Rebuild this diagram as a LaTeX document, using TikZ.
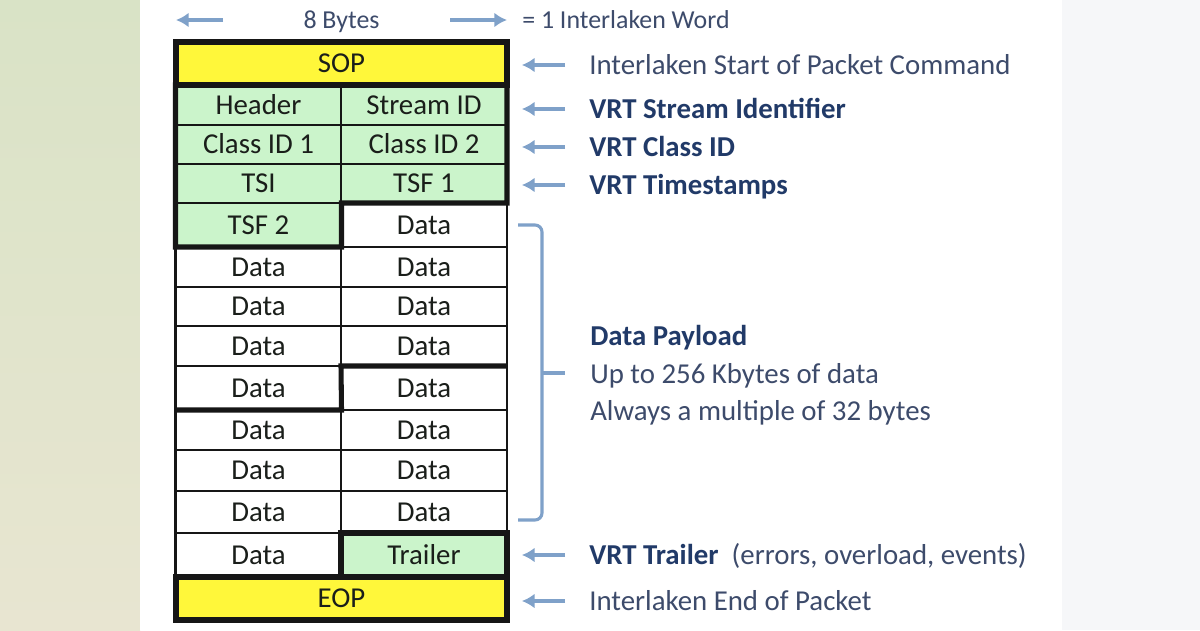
\documentclass[tikz,border=0pt]{standalone}
\usepackage{fontspec}
\setmainfont{Carlito}
\usetikzlibrary{arrows.meta,positioning,calc}
\definecolor{IlkInk}{HTML}{1A1E1A}
\definecolor{IlkLine}{HTML}{161616}
\definecolor{IlkYellow}{HTML}{FFF73A}
\definecolor{IlkGreen}{HTML}{CBF4CB}
\definecolor{IlkNavy}{HTML}{213A68}
\definecolor{IlkSlate}{HTML}{3D4B6B}
\definecolor{IlkArrow}{HTML}{7FA1C9}
\definecolor{IlkSide}{HTML}{F6F7F9}
\definecolor{IlkStripTop}{HTML}{D9E3C6}
\definecolor{IlkStripMid}{HTML}{E4EAE7}
\definecolor{IlkStripBot}{HTML}{E8E5D1}
\newcommand\ilkpx{0.025cm}
\tikzset{
  ilk cell/.style={draw=IlkLine, line width=1.9pt, inner sep=0pt, outer sep=0pt, text=IlkInk,
    font=\fontsize{20.5}{24}\selectfont, text height=13.2pt, text depth=0pt,
    minimum width=166*\ilkpx},
  ilk row/.style={minimum height=#1*\ilkpx},
  ilk data/.style={ilk cell, fill=white},
  ilk vrt/.style={ilk cell, fill=IlkGreen},
  ilk ctrl/.style={ilk cell, fill=IlkYellow, minimum width=331*\ilkpx},
  ilk thick/.style={draw=IlkLine, line width=3.6pt, line join=miter},
  ilk note/.style={anchor=west, inner sep=0pt, text=IlkSlate,
    font=\fontsize{20.5}{24}\selectfont, text height=13.2pt, text depth=0pt},
  ilk vrt note/.style={ilk note, text=IlkNavy, font=\bfseries\fontsize{20.5}{24}\selectfont},
  ilk word/.style={inner sep=0pt, text=IlkSlate, font=\fontsize{18.4}{22}\selectfont,
    text height=11.9pt, text depth=0pt},
  ilk pointer/.style={draw=IlkArrow, line width=2.5pt, -{Latex[length=9pt,width=10.5pt]}},
  ilk brace/.style={draw=IlkArrow, line width=2.2pt, rounded corners=5pt},
}

\begin{document}
\begin{tikzpicture}[x=0.025cm,y=-0.025cm]
  \useasboundingbox (0,0) rectangle (1200,630);
  % slide background: tinted strips either side of the white page
  \shade[top color=IlkStripTop, middle color=IlkStripMid, bottom color=IlkStripBot] (0,0) rectangle (140,630);
  \fill[white] (140,0) rectangle (1062,630);
  \fill[IlkSide] (1062,0) rectangle (1200,630);

  % one Interlaken word per row, two 4-byte fields side by side
  \node[ilk ctrl, ilk row=43] (sop) at (341.5,63.5) {SOP};
  \node[ilk vrt, ilk row=40] (hdr) at (258.5,105) {Header};
  \node[ilk vrt, ilk row=40] (strm) at (424,105) {Stream ID};
  \node[ilk vrt, ilk row=39] (cls1) at (258.5,144.5) {Class ID 1};
  \node[ilk vrt, ilk row=39] (cls2) at (424,144.5) {Class ID 2};
  \node[ilk vrt, ilk row=39] (tsi) at (258.5,183.5) {TSI};
  \node[ilk vrt, ilk row=39] (tsf1) at (424,183.5) {TSF 1};
  \node[ilk vrt, ilk row=44] (tsf2) at (258.5,225) {TSF 2};
  \node[ilk data, ilk row=44] (d4b) at (424,225) {Data};

  % payload words
  \node[ilk data, ilk row=40] (d5a) at (258.5,267) {Data};
  \node[ilk data, ilk row=40] (d5b) at (424,267) {Data};
  \node[ilk data, ilk row=39] (d6a) at (258.5,306.5) {Data};
  \node[ilk data, ilk row=39] (d6b) at (424,306.5) {Data};
  \node[ilk data, ilk row=40] (d7a) at (258.5,346) {Data};
  \node[ilk data, ilk row=40] (d7b) at (424,346) {Data};
  \node[ilk data, ilk row=44] (d8a) at (258.5,388) {Data};
  \node[ilk data, ilk row=44] (d8b) at (424,388) {Data};
  \node[ilk data, ilk row=40] (d9a) at (258.5,430) {Data};
  \node[ilk data, ilk row=40] (d9b) at (424,430) {Data};
  \node[ilk data, ilk row=41] (d10a) at (258.5,470.5) {Data};
  \node[ilk data, ilk row=41] (d10b) at (424,470.5) {Data};
  \node[ilk data, ilk row=42] (d11a) at (258.5,512) {Data};
  \node[ilk data, ilk row=42] (d11b) at (424,512) {Data};
  \node[ilk data, ilk row=44] (d12a) at (258.5,555) {Data};
  \node[ilk vrt, ilk row=44] (trl) at (424,555) {Trailer};
  \node[ilk ctrl, ilk row=43] (eop) at (341.5,598.5) {EOP};

  % heavy outlines round the field groups
  \draw[ilk thick] (sop.north west) rectangle (sop.south east);
  \draw[ilk thick] (hdr.north west) -- (strm.north east) -- (tsf1.south east) -- (tsf2.north east)
    -- (tsf2.south east) -- (tsf2.south west) -- cycle;
  \draw[ilk thick] (d8a.south west) -- (d8a.south east) -- (d8b.north west) -- (d8b.north east);
  \draw[ilk thick] (trl.north west) rectangle (trl.south east);
  \draw[ilk thick] (eop.north west) rectangle (eop.south east);

  % word width
  \node[ilk word] (bytes) at (341.5,20) {8 Bytes};
  \node[ilk word, anchor=west] (word) at (522,20) {= 1 Interlaken Word};
  \draw[ilk pointer, shorten <=57pt] (bytes.west) -- (bytes.west -| sop.west);
  \draw[ilk pointer, shorten <=50pt] (bytes.east) -- (bytes.east -| sop.east);

  % field notes
  \node[ilk note] (sopnote) at (589,65) {Interlaken Start of Packet Command};
  \node[ilk vrt note] (strmnote) at (589,109) {VRT Stream Identifier};
  \node[ilk vrt note] (clsnote) at (589,147) {VRT Class ID};
  \node[ilk vrt note] (tsnote) at (589,185) {VRT Timestamps};
  \node[ilk note] (trlnote) at (589,555) {\textbf{\color{IlkNavy}VRT Trailer}\ \ (errors, overload, events)};
  \node[ilk note] (eopnote) at (589,601) {Interlaken End of Packet};
  \draw[ilk pointer, shorten <=17pt, shorten >=10.6pt] (sopnote.west) -- (sopnote.west -| sop.east);
  \draw[ilk pointer, shorten <=17pt, shorten >=10.6pt] (strmnote.west) -- (strmnote.west -| strm.east);
  \draw[ilk pointer, shorten <=17pt, shorten >=10.6pt] (clsnote.west) -- (clsnote.west -| cls2.east);
  \draw[ilk pointer, shorten <=17pt, shorten >=10.6pt] (tsnote.west) -- (tsnote.west -| tsf1.east);
  \draw[ilk pointer, shorten <=17pt, shorten >=10.6pt] (trlnote.west) -- (trlnote.west -| trl.east);
  \draw[ilk pointer, shorten <=17pt, shorten >=10.6pt] (eopnote.west) -- (eopnote.west -| eop.east);

  % payload bracket
  \draw[ilk brace] (518,225) -- (542,225) -- (542,520) -- (518,520);
  \draw[ilk brace] (542,373) -- (565,373);
  \node[ilk vrt note] (payload) at (590,336) {Data Payload};
  \node[ilk note] (upto) at (590,374) {Up to 256 Kbytes of data};
  \node[ilk note] (mult) at (590,411) {Always a multiple of 32 bytes};
\end{tikzpicture}
\end{document}
